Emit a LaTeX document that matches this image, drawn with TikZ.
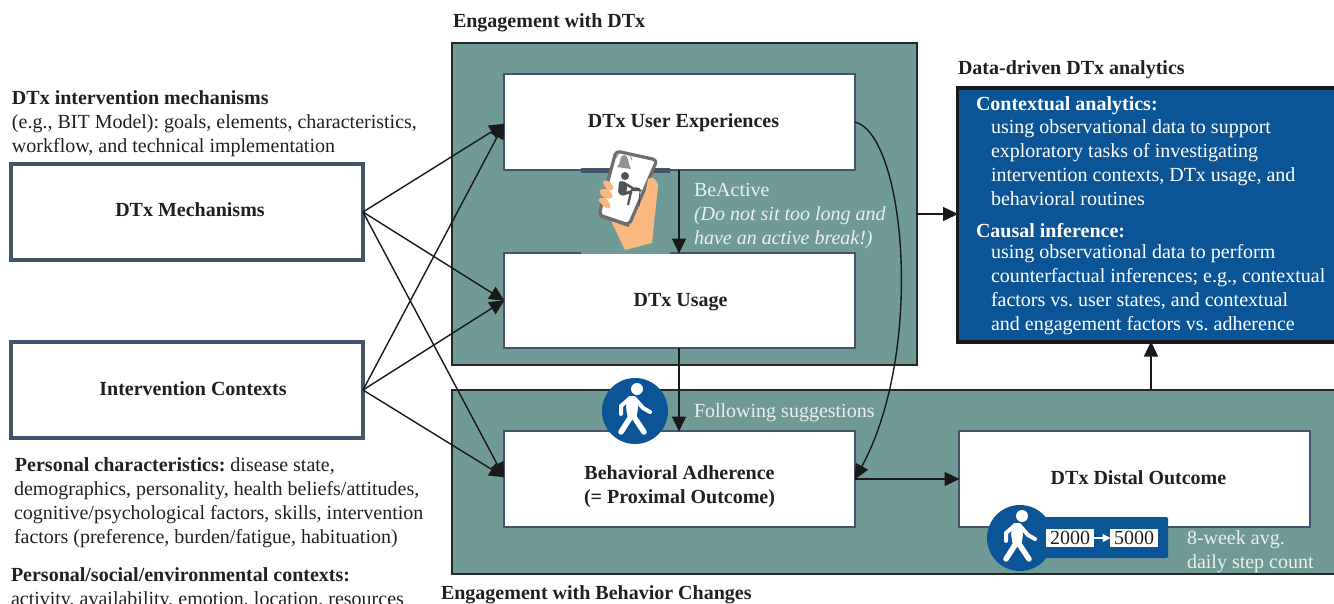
\documentclass[tikz,border=0pt]{standalone}
\usepackage{fontspec}
\setmainfont{Liberation Serif}
\usetikzlibrary{arrows.meta}
\frenchspacing
\definecolor{tealbg}{HTML}{6F9A96}
\definecolor{edgeblue}{HTML}{44546A}
\definecolor{deepblue}{HTML}{0B5596}
\definecolor{paletext}{HTML}{E9F0EF}
\definecolor{inktext}{HTML}{231F20}
\definecolor{peach}{HTML}{F8B87F}
\definecolor{phonegray}{HTML}{6D6E71}
\tikzset{
  tx/.style={anchor=north west,inner sep=0pt,outer sep=0pt,align=left,text=inktext,yshift=-2pt,font=\fontsize{20}{24}\selectfont},
  lighttx/.style={tx,text=paletext},
  whitetx/.style={tx,text=white},
  panel/.style={draw=black!85,line width=1.3pt,fill=tealbg,anchor=north west,inner sep=0pt,outer sep=0pt},
  wbox/.style={draw=edgeblue,line width=2.4pt,fill=white,anchor=north west,inner sep=0pt,outer sep=0pt,minimum width=351pt,minimum height=96pt},
  hbox/.style={wbox,line width=3.4pt,minimum width=352pt,minimum height=96pt},
  boxtx/.style={inner sep=0pt,outer sep=0pt,text=inktext,align=center,font=\fontsize{20}{24}\selectfont\bfseries},
  conn/.style={draw=black!90,line width=1.4pt,-{Triangle[length=15pt,width=14pt]},shorten >=-0.5pt},
  numbox/.style={fill=white,inner sep=0pt,outer sep=0pt,minimum width=48pt,minimum height=18pt,text=inktext,font=\fontsize{20}{24}\selectfont}
}
\newcommand{\walkerfig}[2]{%
  \begin{scope}[shift={(#1,#2)}]
    \fill[deepblue] (0,0) circle[radius=33];
    \fill[white] (2,-22) circle[radius=6];
    \fill[white,rounded corners=3pt] (-8,-15) -- (2,-15) -- (3,-2) -- (1,8) -- (-7,8) -- (-9,-3) -- cycle;
    \draw[white,line width=4pt,line cap=round,line join=round] (1,-11) -- (8,-3) -- (15,1);
    \draw[white,line width=4pt,line cap=round,line join=round] (-7,-11) -- (-14,-5) -- (-14,3);
    \draw[white,line width=5.5pt,line cap=round] (-5,7) -- (-14,21);
    \draw[white,line width=5.5pt,line cap=round] (-1,6) -- (9,21);
  \end{scope}}
\begin{document}
\begin{tikzpicture}[x=1pt,y=-1pt]
\useasboundingbox (0,0) rectangle (1334,603);
\clip (0,0) rectangle (1334,603);
% panels
\node[panel,minimum width=465pt,minimum height=322pt] (engdtx) at (452,43) {};
\node[panel,minimum width=900pt,minimum height=184pt] (engbeh) at (452,390) {};
\node[anchor=north west,draw=black!90,line width=3.6pt,fill=deepblue,inner sep=0pt,outer sep=0pt,minimum width=500pt,minimum height=254pt] (analytics) at (957.5,88) {};
% boxes
\node[hbox,label={[boxtx,xshift=3pt,yshift=2pt]center:DTx Mechanisms}] (mech) at (11,164) {};
\node[hbox,label={[boxtx,xshift=6pt,yshift=1pt]center:Intervention Contexts}] (ctx) at (11,342) {};
\node[wbox,label={[boxtx,xshift=4pt,yshift=-1pt]center:DTx User Experiences}] (ux) at (504,74) {};
\node[wbox,minimum height=95pt,label={[boxtx,xshift=1pt,yshift=-2pt]center:DTx Usage}] (usage) at (504,253) {};
\node[wbox,label={[boxtx,yshift=-8pt]center:{Behavioral Adherence\\(= Proximal Outcome)}}] (adh) at (504,431) {};
\node[wbox,label={[boxtx,xshift=4pt,yshift=1pt]center:DTx Distal Outcome}] (distal) at (959,431) {};
% titles and notes
\node[tx] (t1) at (453,9) {\strut\textbf{Engagement with DTx}};
\node[tx] (t2) at (441,581) {\strut\textbf{Engagement with Behavior Changes}};
\node[tx] (t3) at (958,56) {\strut\textbf{Data-driven DTx analytics}};
\node[tx] (n1) at (12,85.5) {\strut\textbf{DTx intervention mechanisms}\\(e.g., BIT Model): goals, elements, characteristics,\\workflow, and technical implementation};
\node[tx] (n2) at (14,453) {\strut\hspace{1pt}\textbf{Personal characteristics:} disease state,\\demographics, personality, health beliefs/attitudes,\\cognitive/psychological factors, skills, intervention\\factors (preference, burden/fatigue, habituation)};
\node[tx] (n3) at (11,563) {\strut\textbf{Personal/social/environmental contexts:}\\activity, availability, emotion, location, resources};
% analytics text
\node[whitetx] (a1) at (976,92) {\strut\textbf{Contextual analytics:}};
\node[whitetx] (a2) at (991,115) {\strut using observational data to support\\exploratory tasks of investigating\\intervention contexts, DTx usage, and\\behavioral routines};
\node[whitetx] (a3) at (976,219) {\strut\textbf{Causal inference:}};
\node[whitetx] (a4) at (991,240) {\strut using observational data to perform\\counterfactual inferences; e.g., contextual\\factors vs. user states, and contextual\\and engagement factors vs. adherence};
% panel labels
\node[lighttx] (b1) at (694,178) {\strut BeActive\\\textit{(Do not sit too long and}\\\textit{have an active break!)}};
\node[lighttx] (b2) at (694,399) {\strut Following suggestions};
\node[lighttx] (b3) at (1187,526) {\strut 8-week avg.\\daily step count};
% connectors
\draw[conn] (mech.east) -- ([yshift=-2pt]ux.west);
\draw[conn] (mech.east) -- (usage.west);
\draw[conn] (mech.east) -- ([yshift=2pt]adh.west);
\draw[conn] (ctx.east) -- ([yshift=-2pt]ux.west);
\draw[conn] (ctx.east) -- (usage.west);
\draw[conn] (ctx.east) -- ([yshift=2pt]adh.west);
\draw[conn] ([xshift=-0.5pt]ux.south) -- ([xshift=-0.5pt]usage.north);
\draw[conn] ([xshift=-0.5pt]usage.south) -- ([xshift=-0.5pt]adh.north);
\draw[conn] (adh.east) -- (distal.west);
\draw[conn] (ux.east) .. controls (905,135) and (925,350) .. (adh.east);
\draw[conn] (engdtx.east |- 0,214) coordinate (pa) -- (analytics.west |- pa);
\coordinate (pb) at (1151,390);
\draw[conn] (pb) -- (pb |- analytics.south);
% phone detail
\draw[edgeblue,line width=5pt] (581,170) -- (670,170);
\draw[tealbg,line width=2.4pt] (581,253) -- (670,253);
\fill[peach] (625,250) -- (612,223) -- (606,195) -- (640,185) -- (650,177) .. controls (654,178) and (657,181) .. (658,185) -- (652,243) -- cycle;
\draw[phonegray,line width=3.2pt,fill=white,rounded corners=4pt,line join=round] (616,151) -- (657,160) -- (629,225) -- (599,215) -- cycle;
\draw[phonegray,line width=2.2pt] (629,226) -- (600,216);
% bell
\fill[phonegray!75] (617,167) .. controls (621,165) and (619,155) .. (624,155) .. controls (629,155) and (628,165) .. (631,169) -- cycle;
\draw[phonegray!75,line width=0.8pt] (616,158) -- (619,153) (630,155) -- (632,160);
% seated person and desk
\fill[phonegray!75!black] (625,176) circle[radius=4];
\fill[phonegray!75!black,rounded corners=2pt] (619,181) -- (627,182) -- (627,190) -- (625,196) -- (618,194) -- cycle;
\draw[phonegray!75!black,line width=3pt,line cap=round] (622,194) -- (631,192);
\draw[phonegray!75!black,line width=2.2pt] (631,192) -- (628,205);
\draw[phonegray!75!black,line width=2.4pt,line cap=round] (626,184) -- (634,189);
\fill[phonegray!75!black] (630,191) .. controls (632,186) and (640,186) .. (642,191) -- cycle;
\draw[phonegray!75!black,line width=1.1pt] (640,191) -- (639,206);
% fingers and thumb
\fill[peach,rounded corners=3.5pt] (602,180) -- (610,181) -- (615,190) -- (606,190) -- cycle;
\fill[peach,rounded corners=3.5pt] (598,190) -- (608,188) -- (614,198) -- (604,199) -- cycle;
\fill[peach,rounded corners=3.5pt] (597,199) -- (606,197) -- (612,208) -- (606,209) -- cycle;
\fill[peach] (648,179) .. controls (652,176) and (656,179) .. (658,185) -- (655,212) -- (641,217) -- cycle;
% walker one
\walkerfig{635}{411}
% walker two with counter
\fill[deepblue,rounded corners=1.5pt] (1015,517) rectangle (1168,558);
\walkerfig{1020}{538}
\node[numbox] (n2000) at (1070,538) {2000};
\node[numbox] (n5000) at (1134,538) {5000};
\draw[white,line width=1.5pt,-{Triangle[length=8pt,width=8pt]},shorten >=-0.5pt] (n2000) -- (n5000);
\end{tikzpicture}
\end{document}
